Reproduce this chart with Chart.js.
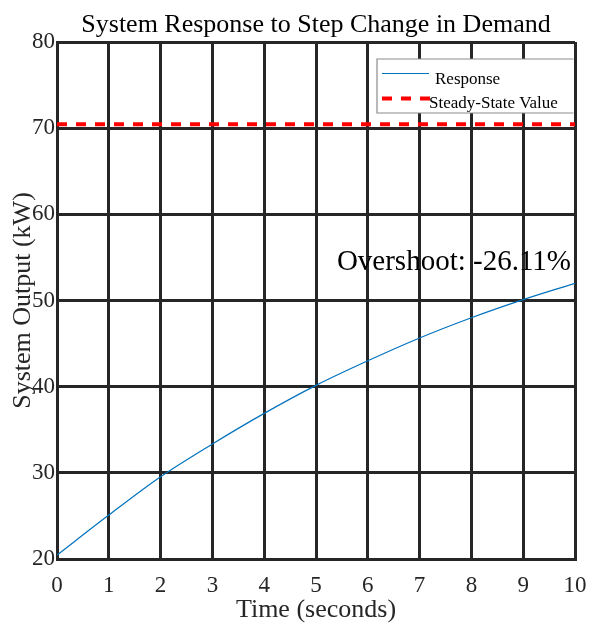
<!DOCTYPE html>
<html>
<head>
<meta charset="utf-8">
<script src="https://cdn.jsdelivr.net/npm/chart.js@4.4.1/dist/chart.umd.min.js"></script>
<style>
  html, body { margin: 0; padding: 0; background: #fff; }
  #wrap { width: 593px; height: 626px; }
</style>
</head>
<body>
<div id="wrap"><canvas id="c" width="593" height="626"></canvas></div>
<script>
// values
const timeSec = [0, 1, 2, 3, 4, 5, 6, 7, 8, 9, 10];
const responseKW = [20.45, 25.1, 29.55, 33.35, 36.9, 40.15, 43.0, 45.65, 48.0, 50.1, 52.0];
const steadyKW = 70.45;
const titleText = 'System Response to Step Change in Demand';
const overshootText = 'Overshoot: -26.11%';
const serif = "'Liberation Serif', 'Times New Roman', serif";
const gridCol = '#262626';

// title, MATLAB-ish legend box inside the axes and the overshoot note
const decor = {
  id: 'decor',
  afterDraw(chart) {
    const ctx = chart.ctx, a = chart.chartArea;
    ctx.save();
    ctx.fillStyle = '#000';
    ctx.font = '26px ' + serif;
    ctx.textAlign = 'center';
    ctx.textBaseline = 'alphabetic';
    ctx.fillText(titleText, (a.left + a.right) / 2, 31.5);

    const x0 = 377, y0 = 59, y1 = 113, x1 = a.right - 1.5;
    ctx.fillStyle = '#fff';
    ctx.fillRect(x0, y0, x1 - x0, y1 - y0);
    ctx.strokeStyle = '#8c8c8c';
    ctx.lineWidth = 1.2;
    ctx.beginPath();
    ctx.moveTo(x1, y0); ctx.lineTo(x0, y0); ctx.lineTo(x0, y1); ctx.lineTo(x1, y1);
    ctx.stroke();
    const ds = chart.data.datasets;
    ctx.font = '17px ' + serif;
    ctx.textAlign = 'left';
    ctx.fillStyle = '#000';
    ctx.strokeStyle = ds[0].borderColor;
    ctx.lineWidth = ds[0].borderWidth;
    ctx.beginPath(); ctx.moveTo(382, 73.5); ctx.lineTo(429, 73.5); ctx.stroke();
    ctx.fillText(ds[0].label, 435, 84);
    ctx.strokeStyle = ds[1].borderColor;
    ctx.lineWidth = ds[1].borderWidth;
    ctx.setLineDash(ds[1].borderDash);
    ctx.beginPath(); ctx.moveTo(382, 98.5); ctx.lineTo(430, 98.5); ctx.stroke();
    ctx.setLineDash([]);
    ctx.fillText(ds[1].label, 429, 107.5);

    ctx.font = '29px ' + serif;
    ctx.textAlign = 'right';
    ctx.fillText(overshootText, 571, 269.5);
    ctx.restore();
  }
};

new Chart(document.getElementById('c'), {
  type: 'line',
  data: {
    datasets: [
      {
        label: 'Response',
        data: timeSec.map((t, i) => ({ x: t, y: responseKW[i] })),
        borderColor: '#0072BD',
        borderWidth: 1.2,
        pointRadius: 0,
        cubicInterpolationMode: 'monotone',
        fill: false
      },
      {
        label: 'Steady-State Value',
        data: [{ x: timeSec[0], y: steadyKW }, { x: timeSec[timeSec.length - 1], y: steadyKW }],
        borderColor: '#ff0000',
        borderWidth: 4,
        borderDash: [10, 9],
        pointRadius: 0,
        fill: false
      }
    ]
  },
  options: {
    responsive: false,
    animation: false,
    events: [],
    layout: { padding: { top: 42, right: 18, bottom: 0, left: 0 } },
    plugins: {
      legend: { display: false },
      tooltip: { enabled: false },
      title: { display: false }
    },
    scales: {
      x: {
        type: 'linear',
        min: 0, max: 10,
        ticks: { stepSize: 1, color: '#262626', padding: 13, maxRotation: 0,
                 font: { family: serif, size: 23 } },
        grid: { color: gridCol, lineWidth: 3, drawTicks: false },
        border: { color: gridCol, width: 3 },
        title: { display: true, text: 'Time (seconds)', color: '#262626',
                 font: { family: serif, size: 26 }, padding: 0 },
        afterFit(s) { s.height = 67; s.paddingLeft = 0; s.paddingRight = 0; }
      },
      y: {
        min: 20, max: 80,
        ticks: { stepSize: 10, color: '#262626', padding: 2,
                 font: { family: serif, size: 23 } },
        grid: { color: gridCol, lineWidth: 3, drawTicks: false },
        border: { color: gridCol, width: 3 },
        title: { display: true, text: 'System Output (kW)', color: '#262626',
                 font: { family: serif, size: 26 }, padding: { top: 8, bottom: 0 } },
        afterFit(s) { s.width = 57; s.paddingTop = 0; s.paddingBottom = 0; }
      }
    }
  },
  plugins: [decor]
});
</script>
</body>
</html>
